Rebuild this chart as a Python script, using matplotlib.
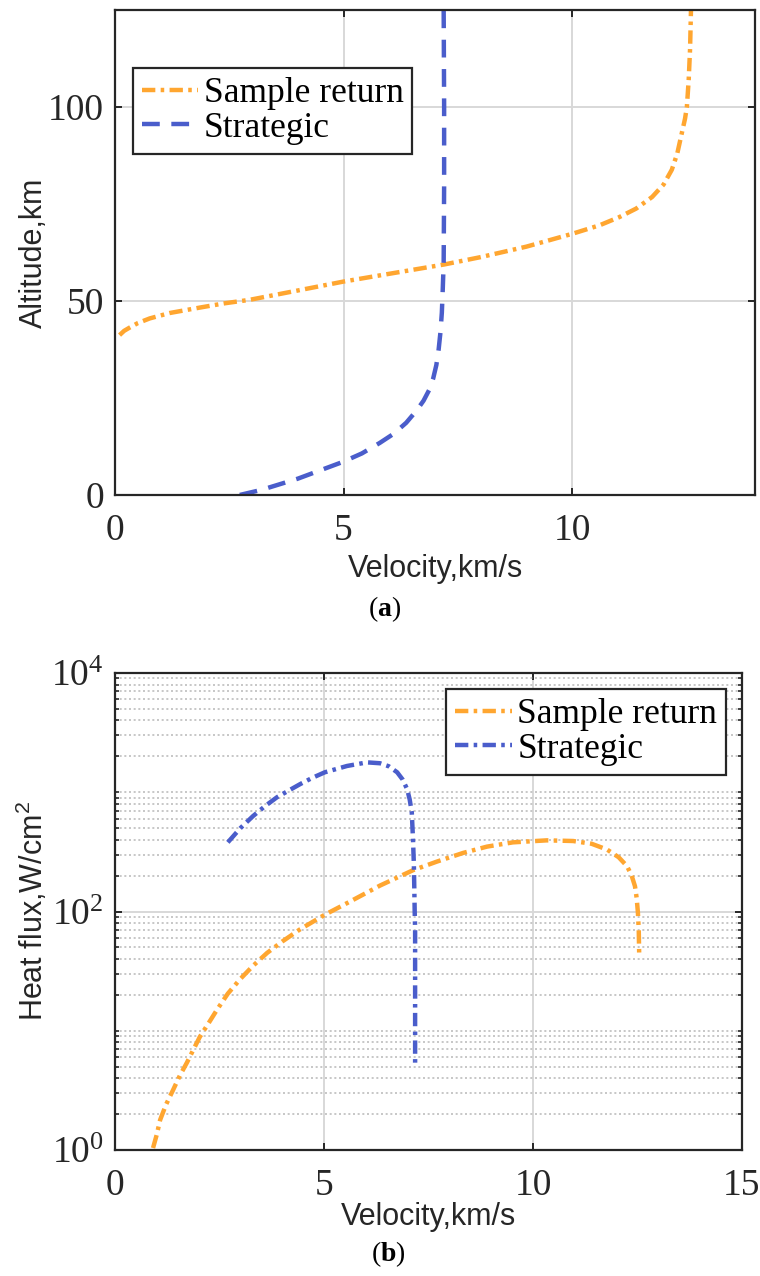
import numpy as np
import matplotlib
matplotlib.use("Agg")
import matplotlib.pyplot as plt
from matplotlib.ticker import LogLocator, NullFormatter, LogFormatterMathtext

# (a) altitude vs velocity
sr_alt_v = [0.1, 0.2, 0.33, 0.5, 0.76, 1.2, 1.86, 2.4, 2.95, 4.0, 5.0, 6.0, 7.2, 8.0, 9.0,
            10.0, 10.6, 11.03, 11.4, 11.75, 12.0, 12.18, 12.3, 12.4, 12.47, 12.51, 12.55,
            12.58, 12.6]
sr_alt_h = [41.2, 42.3, 43.2, 44.3, 45.5, 46.9, 48.3, 49.4, 50.3, 52.7, 55.0, 57.0, 59.4,
            61.3, 64.0, 67.3, 69.5, 71.6, 73.8, 76.8, 80.0, 83.8, 88.0, 93.3, 97.0, 100.0,
            107.0, 115.0, 125.0]
st_alt_v = [2.73, 3.2, 4.0, 4.98, 5.4, 5.79, 6.1, 6.37, 6.6, 6.75, 6.87, 6.96, 7.03, 7.08,
            7.12, 7.15, 7.17, 7.19, 7.2, 7.2, 7.19]
st_alt_h = [0.0, 1.3, 4.2, 8.5, 10.7, 13.4, 15.8, 18.6, 21.8, 24.3, 27.0, 30.0, 33.5, 37.5,
            42.0, 47.0, 53.0, 60.0, 80.0, 100.0, 125.0]

# (b) heat flux vs velocity
sr_q_v = [0.91, 1.0, 1.08, 1.22, 1.39, 1.55, 1.72, 1.88, 2.03, 2.24, 2.44, 2.7, 2.99, 3.3,
          3.64, 4.0, 4.43, 5.02, 5.6, 6.34, 7.13, 7.7, 8.33, 8.9, 9.52, 10.33, 10.96, 11.4,
          11.77, 12.05, 12.25, 12.36, 12.44, 12.48, 12.51, 12.53, 12.54]
sr_q = [1.04, 1.35, 1.79, 2.4, 3.19, 4.2, 5.4, 7.0, 8.9, 11.6, 15, 20.5, 27, 35,
        45, 56, 71, 94, 120, 165, 222, 262, 310, 350, 380, 395, 390, 370,
        331, 285, 240, 200, 163, 130, 98, 70, 45]
st_q_v = [2.70, 3.0, 3.30, 3.6, 3.88, 4.15, 4.43, 4.72, 5.02, 5.55, 6.03, 6.34, 6.55, 6.75,
          6.88, 6.99, 7.05, 7.10, 7.13, 7.15, 7.16, 7.17, 7.18, 7.18, 7.18]
st_q = [380, 500, 630, 770, 910, 1030, 1170, 1320, 1470, 1660, 1780, 1750, 1650, 1470,
        1280, 1060, 870, 680, 400, 250, 160, 100, 71, 20, 4.9]

orange = "#FFA630"
blue = "#4A5DCB"
dark = "#262626"
serif = "Liberation Serif"
sans = "Liberation Sans"

plt.rcParams["font.family"] = serif
plt.rcParams["mathtext.fontset"] = "custom"
plt.rcParams["mathtext.rm"] = serif
plt.rcParams["mathtext.bf"] = serif + ":bold"

fig = plt.figure(figsize=(7.6, 12.76), dpi=100)
ax1 = fig.add_axes([0.1513, 0.6121, 0.8421, 0.3801])
ax2 = fig.add_axes([0.1513, 0.0987, 0.8250, 0.3739])

dashdot = (0, (3, 1.2, 0.8, 1.2))
dashed = (0, (4.0, 2.6))
LW = 3.2


def style(ax):
    for s in ax.spines.values():
        s.set_color(dark)
        s.set_linewidth(1.6)
    ax.tick_params(which="both", direction="in", top=True, right=True, color=dark)
    ax.tick_params(which="major", length=5, width=1.4, labelsize=27, pad=8, labelcolor=dark)
    ax.tick_params(axis="x", which="major", pad=13)
    ax.tick_params(which="minor", length=3, width=1.2)
    for lab in ax.get_xticklabels() + ax.get_yticklabels():
        lab.set_fontfamily(serif)


def legend(ax, **kw):
    leg = ax.legend(borderaxespad=0, fancybox=False, framealpha=1, edgecolor=dark,
                    fontsize=25.5, handlelength=1.6, handletextpad=0.15, labelspacing=0.05,
                    borderpad=0.25, **kw)
    leg.get_frame().set_linewidth(1.6)
    for t in leg.get_texts():
        t.set_color("black")
    return leg


# ---- (a)
ax1.plot(sr_alt_v, sr_alt_h, color=orange, lw=LW, ls=dashdot, label="Sample return")
ax1.plot(st_alt_v, st_alt_h, color=blue, lw=LW, ls=dashed, label="Strategic")
ax1.set_xlim(0, 14)
ax1.set_ylim(0, 125)
ax1.set_xticks([0, 5, 10])
ax1.set_yticks([0, 50, 100])
ax1.grid(True, color="#D8D8D8", lw=1.4)
ax1.set_axisbelow(True)
style(ax1)
ax1.set_xlabel("Velocity,km/s", fontfamily=sans, fontsize=22, color=dark)
ax1.xaxis.set_label_coords(0.5, -0.122)
ax1.set_ylabel("Altitude,km", fontfamily=sans, fontsize=22, color=dark)
ax1.yaxis.set_label_coords(-0.103, 0.5)
legend(ax1, loc="upper left", bbox_to_anchor=(0.028, 0.88))

# ---- (b)
ax2.plot(sr_q_v, sr_q, color=orange, lw=LW, ls=dashdot, label="Sample return")
ax2.plot(st_q_v, st_q, color=blue, lw=LW, ls=dashdot, label="Strategic")
ax2.set_yscale("log")
ax2.set_xlim(0, 15)
ax2.set_ylim(1, 1e4)
ax2.set_xticks([0, 5, 10, 15])
ax2.set_yticks([1, 1e2, 1e4])
ax2.yaxis.set_major_formatter(LogFormatterMathtext())
ax2.yaxis.set_minor_locator(LogLocator(base=10, subs=np.arange(1, 10), numticks=20))
ax2.yaxis.set_minor_formatter(NullFormatter())
ax2.grid(True, which="major", color="#D8D8D8", lw=1.4)
ax2.grid(True, which="minor", axis="y", color="#BDBDBD", lw=1.2, ls=(0, (1.2, 1.6)))
ax2.set_axisbelow(True)
style(ax2)
ax2.set_xlabel("Velocity,km/s", fontfamily=sans, fontsize=22, color=dark)
ax2.xaxis.set_label_coords(0.5, -0.108)
ax2.set_ylabel("Heat flux,W/cm$^{\\mathdefault{2}}$", fontfamily=sans, fontsize=22, color=dark)
ax2.yaxis.set_label_coords(-0.104, 0.5)
legend(ax2, loc="upper right", bbox_to_anchor=(0.9745, 0.966))

fig.text(385 / 760, 1 - 609 / 1276, "($\\mathbf{a}$)", ha="center", va="center", fontsize=20)
fig.text(388 / 760, 1 - 1254 / 1276, "($\\mathbf{b}$)", ha="center", va="center", fontsize=20)

fig.savefig("out.png", dpi=100)
